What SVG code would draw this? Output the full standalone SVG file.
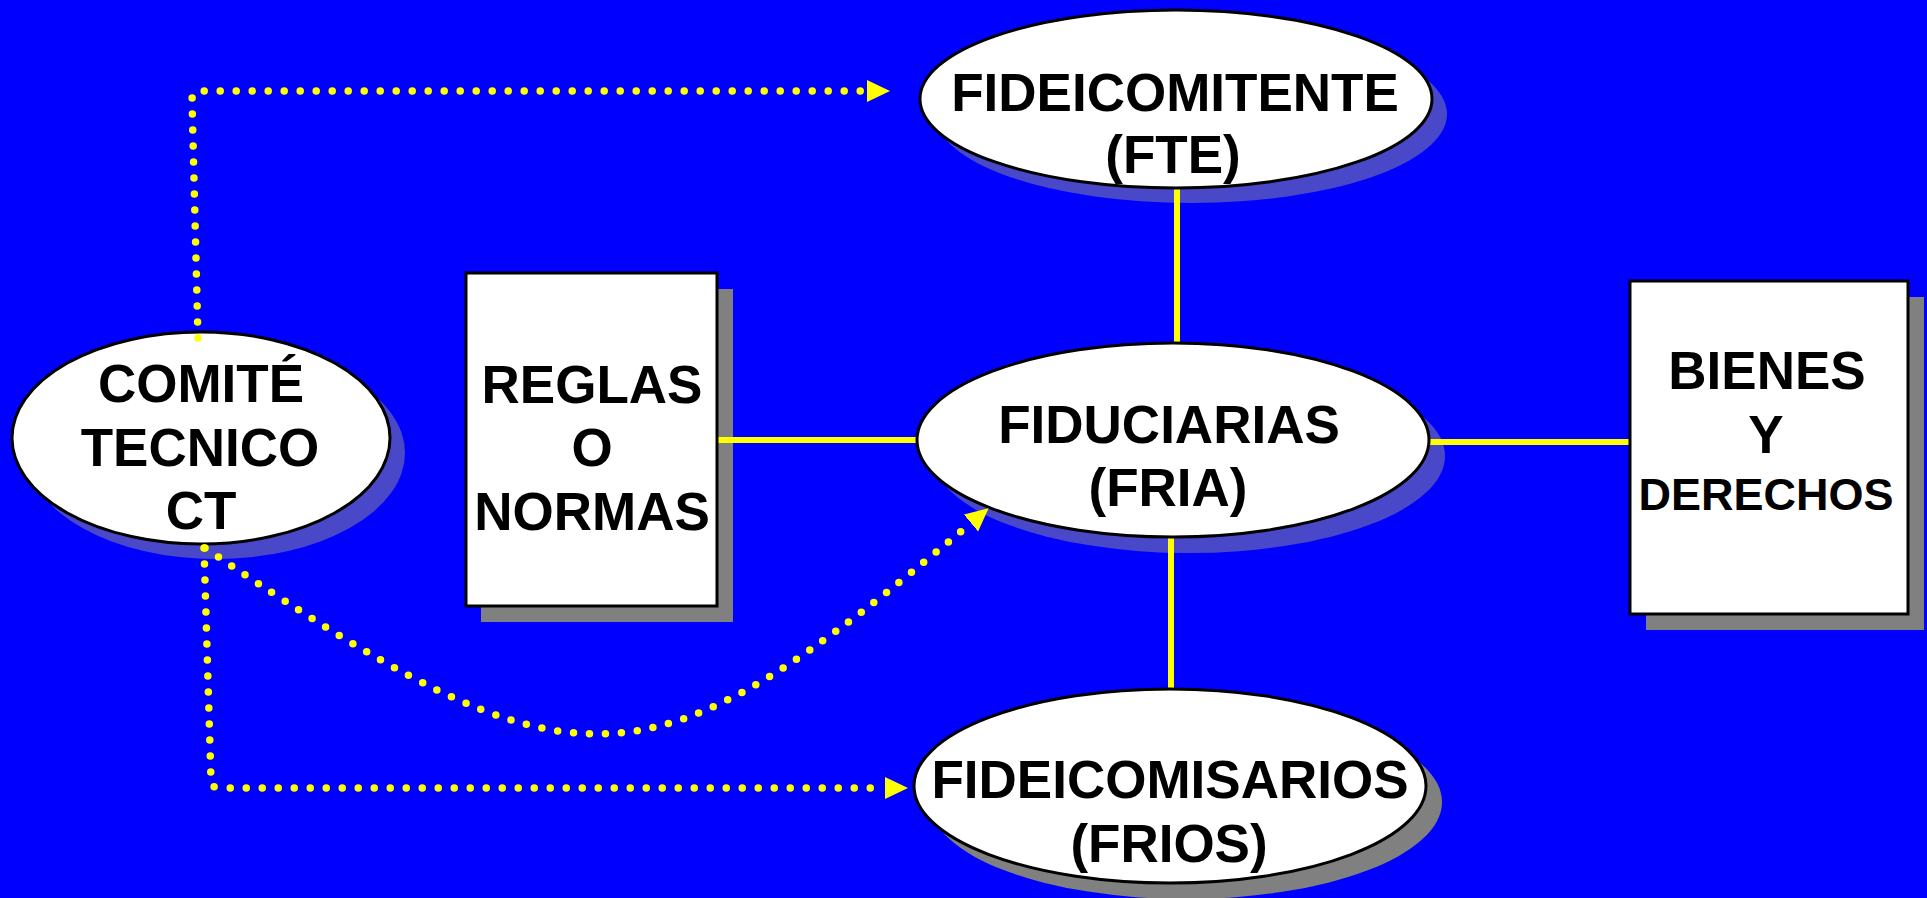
<svg xmlns="http://www.w3.org/2000/svg" width="1927" height="898" viewBox="0 0 1927 898">
<defs>
<style>
.bg{fill:#0000ff}
.node{fill:#ffffff;stroke:#000000;stroke-width:3}
.shb{fill:#4848c8}
.shg{fill:#808080}
.lbl{font-family:"Liberation Sans",Arial,sans-serif;font-weight:bold;font-size:53px;fill:#000000;text-anchor:middle}
.sm{font-size:45px}
.solid{stroke:#ffff00;stroke-width:6;fill:none}
.dot{stroke:#ffff00;stroke-width:7.5;fill:none;stroke-linecap:round;stroke-dasharray:0 16}
</style>
<marker id="arr" markerUnits="userSpaceOnUse" markerWidth="24" markerHeight="24" refX="0" refY="11" orient="auto" viewBox="0 0 24 24">
<path d="M0,0 L23,11 L0,22 z" fill="#ffff00"/>
</marker>
</defs>
<rect class="bg" x="0" y="0" width="1927" height="898"/>

<g id="shadows">
<ellipse class="shb" cx="1191" cy="114" rx="256" ry="89"/>
<ellipse class="shb" cx="216" cy="453" rx="189" ry="106"/>
<ellipse class="shb" cx="1189" cy="456" rx="256" ry="97"/>
<ellipse class="shg" cx="1186" cy="802" rx="256" ry="97"/>
<rect class="shg" x="481" y="289" width="252" height="333"/>
<rect class="shg" x="1646" y="297" width="278" height="333"/>
</g>

<g id="connectors">
<line class="solid" x1="1177" y1="189" x2="1177" y2="343"/>
<line class="solid" x1="1171" y1="537" x2="1171" y2="689"/>
<line class="solid" x1="717" y1="440" x2="917" y2="440"/>
<line class="solid" x1="1429" y1="442" x2="1630" y2="442"/>
</g>

<g id="node-fte">
<ellipse class="node" cx="1176" cy="99" rx="256" ry="89"/>
<text class="lbl" x="1175" y="111">FIDEICOMITENTE</text>
<text class="lbl" x="1173" y="173">(FTE)</text>
</g>

<g id="node-ct">
<ellipse class="node" cx="201" cy="438" rx="189" ry="106"/>
<text class="lbl" x="201" y="402">COMITÉ</text>
<text class="lbl" x="200" y="466">TECNICO</text>
<text class="lbl" x="201" y="529">CT</text>
</g>

<g id="node-reglas">
<rect class="node" x="466" y="273" width="251" height="333"/>
<text class="lbl" x="592" y="403">REGLAS</text>
<text class="lbl" x="592" y="466">O</text>
<text class="lbl" x="592" y="530">NORMAS</text>
</g>

<g id="node-fria">
<ellipse class="node" cx="1173" cy="440" rx="256" ry="97"/>
<text class="lbl" x="1169" y="443">FIDUCIARIAS</text>
<text class="lbl" x="1168" y="506">(FRIA)</text>
</g>

<g id="node-bienes">
<rect class="node" x="1630" y="281" width="278" height="333"/>
<text class="lbl" x="1767" y="389">BIENES</text>
<text class="lbl" x="1766" y="453">Y</text>
<text class="lbl sm" x="1766" y="510">DERECHOS</text>
</g>

<g id="node-frios">
<ellipse class="node" cx="1170" cy="786" rx="256" ry="97"/>
<text class="lbl" x="1170" y="798">FIDEICOMISARIOS</text>
<text class="lbl" x="1169" y="862">(FRIOS)</text>
</g>

<g id="dotted-connectors">
<path class="dot" d="M198,338 L192,100 Q192,91 200,91 L867,91" marker-end="url(#arr)"/>
<path class="dot" d="M204,548 L211,780 Q211,788 219,788 L885,788" marker-end="url(#arr)"/>
<path class="dot" d="M205,548 C578,800 642,800 971,523" marker-end="url(#arr)"/>
</g>
</svg>
